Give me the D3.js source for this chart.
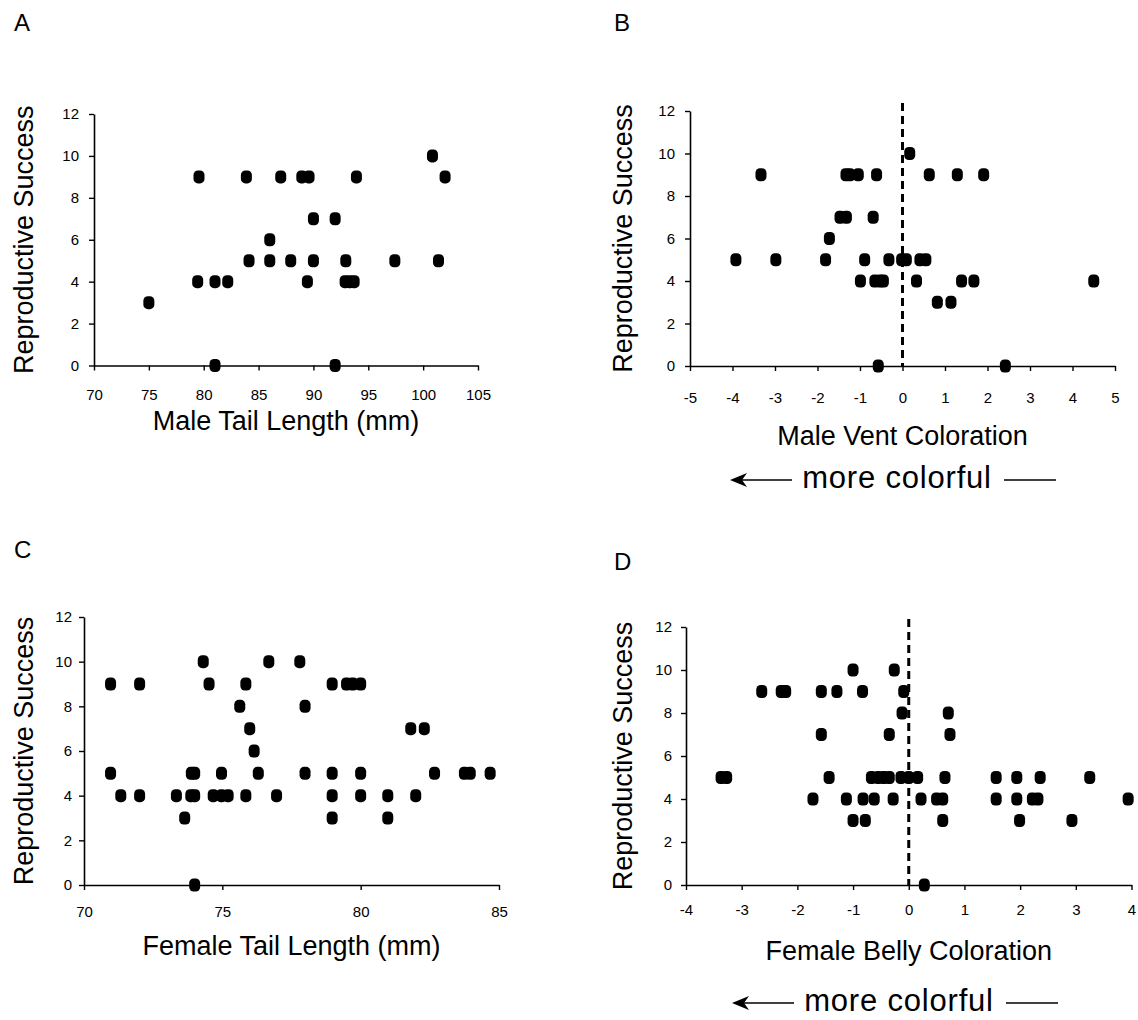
<!DOCTYPE html>
<html>
<head>
<meta charset="utf-8">
<script src="https://cdn.jsdelivr.net/npm/d3@7"></script>
<style>
  body { margin: 0; background: #fff; }
  svg { display: block; }
  .tick text { font-family: "Liberation Sans Narrow", "Liberation Sans", Arial, sans-serif; font-size: 15px; fill: #000; }
  .ttl { font-family: "Liberation Sans", Arial, sans-serif; font-size: 27px; fill: #000; }
</style>
</head>
<body>
<div id="chart"></div>
<script>
// reproductive success ticks (shared by all panels)
var rsTicks = [0, 2, 4, 6, 8, 10, 12];

// A: male tail length
var maleTailTicks = [70, 75, 80, 85, 90, 95, 100, 105];
var maleTailX = [75.0, 79.45, 81.03, 82.19, 89.45, 92.89, 93.31, 93.71,
                 84.13, 86.02, 87.93, 90.0, 92.95, 97.42, 101.4,
                 86.02, 90.0, 91.98,
                 79.57, 83.89, 87.02, 88.94, 89.6, 93.92, 102.0,
                 100.85, 81.03, 91.98];
var maleTailRS = [3, 4, 4, 4, 4, 4, 4, 4,
                  5, 5, 5, 5, 5, 5, 5,
                  6, 7, 7,
                  9, 9, 9, 9, 9, 9, 9,
                  10, 0, 0];

// B: male vent coloration
var ventTicks = [-5, -4, -3, -2, -1, 0, 1, 2, 3, 4, 5];
var maleVentX = [0.17,
                 -3.33, -1.33, -1.24, -1.04, -0.61, 0.63, 1.29, 1.91,
                 -1.47, -1.32, -0.69,
                 -1.72,
                 -3.92, -2.98, -1.81, -0.89, -0.32, -0.02, 0.09, 0.41, 0.55,
                 -0.99, -0.65, -0.53, -0.45, 0.33, 1.39, 1.68, 4.5,
                 0.82, 1.14,
                 -0.57, 2.42];
var maleVentRS = [10,
                  9, 9, 9, 9, 9, 9, 9, 9,
                  7, 7, 7,
                  6,
                  5, 5, 5, 5, 5, 5, 5, 5, 5,
                  4, 4, 4, 4, 4, 4, 4, 4,
                  3, 3,
                  0, 0];

// C: female tail length
var femTailTicks = [70, 75, 80, 85];
var femTailX = [70.96, 72.01, 74.52, 75.85, 78.97, 79.49, 79.71, 80.0,
                74.31, 76.68, 77.8,
                75.63, 77.99,
                75.99, 81.81, 82.3,
                76.15,
                70.96, 73.88, 74.0, 74.97, 76.3, 77.99, 78.97, 80.0, 82.67, 83.75, 83.96, 84.68,
                71.33, 72.01, 73.34, 73.86, 74.0, 74.67, 74.97, 75.21, 75.85, 76.96, 78.97, 80.0, 80.98, 81.99,
                73.64, 78.97, 80.98,
                74.0];
var femTailRS = [9, 9, 9, 9, 9, 9, 9, 9,
                 10, 10, 10,
                 8, 8,
                 7, 7, 7,
                 6,
                 5, 5, 5, 5, 5, 5, 5, 5, 5, 5, 5, 5,
                 4, 4, 4, 4, 4, 4, 4, 4, 4, 4, 4, 4, 4, 4,
                 3, 3, 3,
                 0];

// D: female belly coloration
var bellyTicks = [-4, -3, -2, -1, 0, 1, 2, 3, 4];
var femBellyX = [-3.37, -3.27, -1.43, -0.67, -0.55, -0.45, -0.35, -0.14, 0.0, 0.16, 0.65, 1.57, 1.94, 2.36, 3.25,
                 -1.72, -1.12, -0.82, -0.62, -0.28, 0.22, 0.50, 0.61, 1.57, 1.94, 2.22, 2.32, 3.94,
                 -1.0, -0.78, 0.61, 1.99, 2.93,
                 0.28,
                 -1.0, -0.26,
                 -2.64, -2.29, -2.21, -1.57, -1.29, -0.83, -0.09,
                 -0.12, 0.71,
                 -1.57, -0.35, 0.74];
var femBellyRS = [5, 5, 5, 5, 5, 5, 5, 5, 5, 5, 5, 5, 5, 5, 5,
                  4, 4, 4, 4, 4, 4, 4, 4, 4, 4, 4, 4, 4,
                  3, 3, 3, 3, 3,
                  0,
                  10, 10,
                  9, 9, 9, 9, 9, 9, 9,
                  8, 8,
                  7, 7, 7];

var svg = d3.select('#chart').append('svg')
    .attr('width', 1138).attr('height', 1020);

// one panel = one scatter with its own pixel box
function drawPanel(p) {
    var x = d3.scaleLinear().domain(d3.extent(p.ticks)).range([p.left, p.right]);
    var y = d3.scaleLinear().domain([0, 12]).range([p.bottom, p.top]);
    var g = svg.append('g');

    // zero reference line (coloration panels)
    if (p.zeroLine) {
        g.append('line')
            .attr('x1', x(0)).attr('x2', x(0))
            .attr('y1', p.top - 8).attr('y2', p.bottom)
            .attr('stroke', '#000').attr('stroke-width', 3)
            .attr('stroke-dasharray', '8,5');
    }

    var xa = g.append('g')
        .attr('transform', 'translate(0,' + p.bottom + ')')
        .call(d3.axisBottom(x).tickValues(p.ticks).tickFormat(d3.format('d'))
              .tickSize(5).tickSizeOuter(0).tickPadding(p.xPad));
    var ya = g.append('g')
        .attr('transform', 'translate(' + p.left + ',0)')
        .call(d3.axisLeft(y).tickValues(rsTicks).tickSize(5).tickSizeOuter(0).tickPadding(p.yPad));
    [xa, ya].forEach(function(a){
        a.select('.domain').attr('stroke', '#000').attr('stroke-width', 1.6);
        a.selectAll('.tick line').attr('stroke', '#000').attr('stroke-width', 1.4);
    });
    xa.selectAll('.tick text').text(function(d){ return d < 0 ? '-' + Math.abs(d) : d; });

    // points
    g.selectAll('rect.pt').data(p.xs).enter().append('rect')
        .attr('class', 'pt')
        .attr('x', function(d){ return x(d) - 5.5; })
        .attr('y', function(d, i){ return y(p.ys[i]) - 6.5; })
        .attr('width', 11).attr('height', 13)
        .attr('rx', 4.5).attr('ry', 4.5)
        .attr('fill', '#000');

    // titles
    svg.append('text').attr('class', 'ttl')
        .attr('x', (p.left + p.right) / 2).attr('y', p.xTitleY)
        .attr('text-anchor', 'middle').text(p.xTitle);
    svg.append('text').attr('class', 'ttl')
        .attr('transform', 'translate(' + p.yTitleX + ',' + ((p.top + p.bottom) / 2) + ') rotate(-90)')
        .attr('text-anchor', 'middle').text('Reproductive Success');
    svg.append('text').attr('class', 'ttl')
        .style('font-size', '24px')
        .attr('x', p.letterX).attr('y', p.letterY).text(p.letter);

    // "more colorful" arrow under the coloration axes
    if (p.arrowY) {
        var ay = p.arrowY, ax = p.arrowX;
        svg.append('line').attr('x1', ax + 10).attr('x2', ax + 62).attr('y1', ay).attr('y2', ay)
            .attr('stroke', '#000').attr('stroke-width', 1.6);
        svg.append('path')
            .attr('d', 'M' + ax + ',' + ay + ' L' + (ax + 17) + ',' + (ay - 7) + ' L' + (ax + 12) + ',' + ay +
                  ' L' + (ax + 17) + ',' + (ay + 7) + ' Z')
            .attr('fill', '#000');
        svg.append('text').attr('class', 'ttl')
            .style('font-size', '31px').style('letter-spacing', '0.8px')
            .attr('x', ax + 167).attr('y', ay + 8)
            .attr('text-anchor', 'middle')
            .text('more colorful');
        svg.append('line').attr('x1', ax + 274).attr('x2', ax + 326).attr('y1', ay).attr('y2', ay)
            .attr('stroke', '#000').attr('stroke-width', 1.6);
    }
}

drawPanel({ letter: 'A', letterX: 14, letterY: 31, ticks: maleTailTicks, xs: maleTailX, ys: maleTailRS,
            left: 94, right: 478, top: 114, bottom: 365.5, xPad: 19, yPad: 10,
            xTitle: 'Male Tail Length (mm)', xTitleY: 430, yTitleX: 33 });
drawPanel({ letter: 'B', letterX: 614, letterY: 31, ticks: ventTicks, xs: maleVentX, ys: maleVentRS,
            left: 690, right: 1115, top: 111, bottom: 366, xPad: 21, yPad: 10, zeroLine: true,
            xTitle: 'Male Vent Coloration', xTitleY: 445, yTitleX: 632,
            arrowX: 730, arrowY: 480 });
drawPanel({ letter: 'C', letterX: 14, letterY: 558, ticks: femTailTicks, xs: femTailX, ys: femTailRS,
            left: 84, right: 499, top: 617, bottom: 885, xPad: 16, yPad: 7,
            xTitle: 'Female Tail Length (mm)', xTitleY: 955, yTitleX: 33 });
drawPanel({ letter: 'D', letterX: 614, letterY: 570, ticks: bellyTicks, xs: femBellyX, ys: femBellyRS,
            left: 686, right: 1131.5, top: 627, bottom: 885, xPad: 14, yPad: 9, zeroLine: true,
            xTitle: 'Female Belly Coloration', xTitleY: 960, yTitleX: 632,
            arrowX: 732, arrowY: 1003 });
</script>
</body>
</html>
